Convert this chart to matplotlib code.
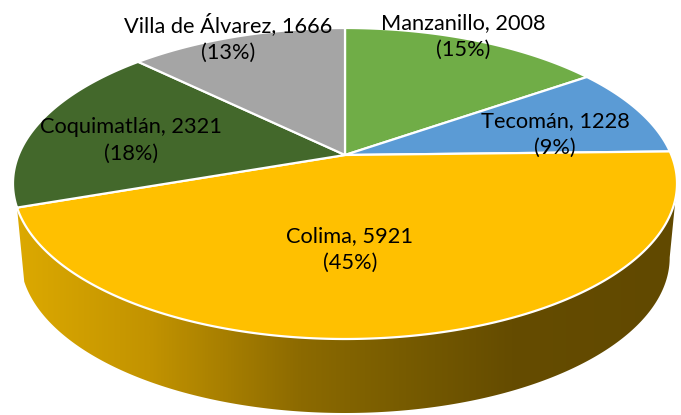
import numpy as np
import matplotlib
matplotlib.use("Agg")
import matplotlib.pyplot as plt
from matplotlib.patches import Polygon
from matplotlib.colors import LinearSegmentedColormap

# ---- data ----
names = ["Manzanillo", "Tecomán", "Colima", "Coquimatlán", "Villa de Álvarez"]
values = [2008, 1228, 5921, 2321, 1666]
colors = ["#70AD47", "#5B9BD5", "#FFC000", "#43682B", "#A5A5A5"]
show_side = [False, False, True, False, False]

# ---- layout (pixel space) ----
W, H = 681, 415
cx, cy = 345.0, 155.0       # projected pie centre
y_far, y_near = 28.0, 339.0 # projected far / near rim
half_w = 332.0
depth = 74.0
bottom_scale = 0.978

# perspective (homography) parameters:
# a + cy = y_far (c + 1) ; -a + cy = y_near (1 - c)
c = (y_near + y_far - 2 * cy) / (y_near - y_far)
a = y_far * (c + 1) - cy
k = half_w * np.sqrt(1 - c ** 2)


def proj(theta_deg, bottom=False):
    t = np.radians(theta_deg)
    X, Y = np.cos(t), np.sin(t)
    w = c * Y + 1
    x = cx + k * X / w
    y = (a * Y + cy) / w
    if bottom:
        x = cx + (x - cx) * bottom_scale
        y = y + depth
    return x, y


fig = plt.figure(figsize=(W / 100, H / 100), dpi=100)
ax = fig.add_axes([0, 0, 1, 1])
ax.set_xlim(0, W)
ax.set_ylim(H, 0)
ax.axis("off")

total = sum(values)
fracs = [v / total for v in values]
starts = 90 - 360 * np.concatenate([[0], np.cumsum(fracs)[:-1]])
ends = starts - 360 * np.array(fracs)

asin_c = np.degrees(np.arcsin(c))
front_lo, front_hi = -180 + asin_c, -asin_c  # visible side range

grad = LinearSegmentedColormap.from_list(
    "side",
    [(0.0, "#DCA900"), (0.2, "#C29300"), (0.43, "#8C6A00"),
     (0.58, "#785C00"), (0.75, "#654C00"), (1.0, "#614900")])

# side walls
for i in range(len(values)):
    if not show_side[i]:
        continue
    lo = max(ends[i], front_lo)
    hi = min(starts[i], front_hi)
    if hi <= lo:
        continue
    th = np.linspace(hi, lo, 300)
    xt, yt = proj(th)
    xb, yb = proj(th[::-1], bottom=True)
    pts = np.column_stack([np.concatenate([xt, xb]), np.concatenate([yt, yb])])
    poly = Polygon(pts, closed=True, facecolor="none", edgecolor="none")
    ax.add_patch(poly)
    g = np.linspace(0, 1, 512)[None, :]
    im = ax.imshow(g, cmap=grad, extent=(pts[:, 0].min(), pts[:, 0].max(), H, 0),
                   aspect="auto", zorder=1, interpolation="bilinear")
    im.set_clip_path(poly)

# top faces
for i in range(len(values)):
    th = np.linspace(starts[i], ends[i], 300)
    xs, ys = proj(th)
    pts = np.column_stack([np.concatenate([[cx], xs]), np.concatenate([[cy], ys])])
    ax.add_patch(Polygon(pts, closed=True, facecolor=colors[i], edgecolor="white",
                         linewidth=1.6, joinstyle="round", zorder=2))

# labels
label_pos = [(463, 29), (555, 127), (350, 242), (131, 133), (228, 32)]
line_gap = 27
font = dict(family=["Lato", "DejaVu Sans"], fontsize=15.7, color="black", zorder=3)
for i, (x, y) in enumerate(label_pos):
    pct = round(values[i] / total * 100)
    ax.text(x, y, f"{names[i]}, {values[i]}", ha="center", va="baseline", **font)
    ax.text(x, y + line_gap, f"({pct}%)", ha="center", va="baseline", **font)

fig.savefig("out.png", dpi=100)
